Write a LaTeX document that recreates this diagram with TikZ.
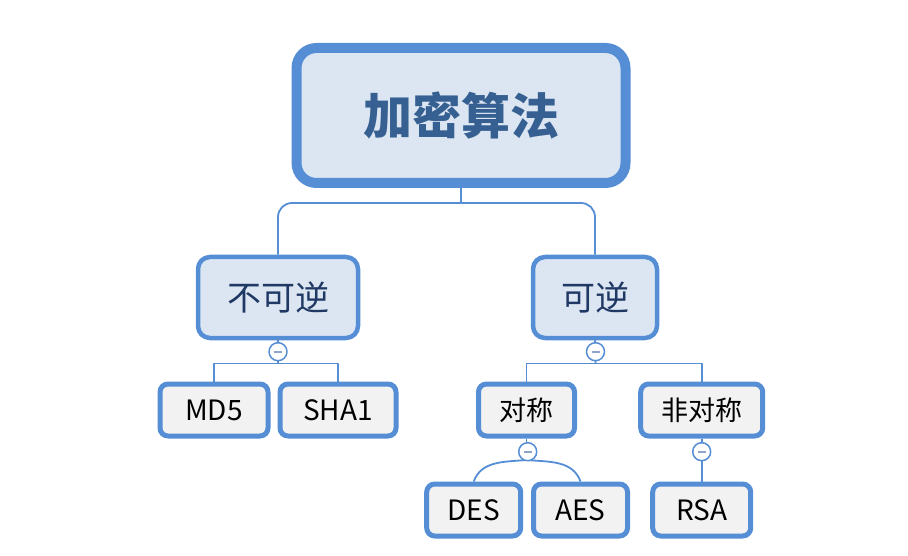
\documentclass[tikz,border=0pt]{standalone}
\usepackage{fontspec}
\setmainfont{Noto Sans CJK SC}
\definecolor{edgeblue}{HTML}{558ED5}
\definecolor{paleblue}{HTML}{DCE6F2}
\definecolor{rootink}{HTML}{366092}
\definecolor{subink}{HTML}{1F3864}
\definecolor{leafgray}{HTML}{F2F2F2}
\definecolor{minusgray}{HTML}{8EA4C8}
\tikzset{
  rootbox/.style={draw=edgeblue, line width=10pt, fill=paleblue, rounded corners=20pt,
    inner sep=0pt, text=rootink, font=\fontsize{49}{49}\selectfont\bfseries},
  subbox/.style={draw=edgeblue, line width=4.5pt, fill=paleblue, rounded corners=12pt,
    inner sep=0pt, minimum height=81pt, text=subink, font=\fontsize{34}{34}\selectfont},
  leafbox/.style={draw=edgeblue, line width=5pt, fill=leafgray, rounded corners=8pt,
    inner sep=0pt, minimum height=52pt, text=black, font=\fontsize{28}{28}\selectfont},
  fold/.style={circle, draw=edgeblue, line width=1.5pt, fill=white, inner sep=0pt,
    minimum size=18pt},
  link/.style={draw=edgeblue, line width=1.8pt}
}
\newcommand{\foldmark}{\textcolor{minusgray}{\rule[-1pt]{8pt}{2pt}}}
\begin{document}
\begin{tikzpicture}[x=1pt, y=-1pt, line join=round]
\useasboundingbox (0,0) rectangle (908,556);
% main box
\node[rootbox, minimum width=329pt, minimum height=135pt] (root) at (461,115.5) {加密算法};
% first level
\node[subbox, minimum width=160pt] (bkn) at (278,297.5) {不可逆};
\node[subbox, minimum width=124pt] (kn) at (595,297.5) {可逆};
% second level
\node[leafbox, minimum width=108pt] (md5) at (214,410) {MD5};
\node[leafbox, minimum width=116pt] (sha1) at (338,410) {SHA1};
\node[leafbox, minimum width=96pt, font=\fontsize{27}{27}\selectfont] (dc) at (526.5,410) {对称};
\node[leafbox, minimum width=122pt, font=\fontsize{27}{27}\selectfont] (fdc) at (701.7,410) {非对称};
% third level
\node[leafbox, minimum width=94pt] (des) at (473.7,510) {DES};
\node[leafbox, minimum width=94pt] (aes) at (580.5,510) {AES};
\node[leafbox, minimum width=98pt] (rsa) at (701.7,510) {RSA};
% branch points
\coordinate (j0) at (461,203);
\coordinate (j1) at (278,363.5);
\coordinate (j2) at (595.5,363.5);
% connectors
\draw[link] (root.south) -- (j0);
\draw[link, rounded corners=14pt] (bkn.north) |- (j0) -| (kn.north);
\draw[link] (md5.north) |- (j1) -| (sha1.north);
\draw[link] (dc.north) |- (j2) -| (fdc.north);
\draw[link] (bkn.south) -- (j1);
\draw[link] (kn.south) -- (j2);
\draw[link] (dc.south) -- (526.5,460);
\draw[link] (526.5,460) to[out=185, in=70] (des.north);
\draw[link] (526.5,460) to[out=-5, in=110] (aes.north);
\draw[link] (fdc.south) -- (rsa.north);
% collapse buttons
\node[fold] (f1) at (278,351.7) {\foldmark};
\node[fold] (f2) at (595.5,351.7) {\foldmark};
\node[fold] (f3) at (527.7,451.7) {\foldmark};
\node[fold] (f4) at (701.7,451.7) {\foldmark};
\end{tikzpicture}
\end{document}
